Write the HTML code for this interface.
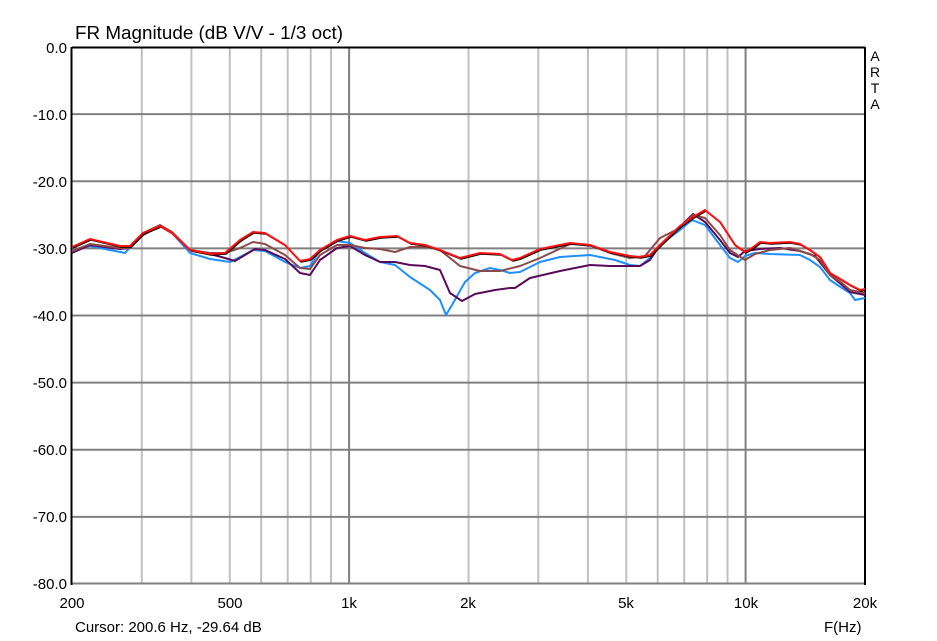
<!DOCTYPE html>
<html><head><meta charset="utf-8"><style>
body{margin:0;background:#fff;}
svg{display:block;font-family:"Liberation Sans",Arial,sans-serif;}
</style></head><body>
<svg width="937" height="641" viewBox="0 0 937 641" xmlns="http://www.w3.org/2000/svg">
<rect width="937" height="641" fill="#fff"/>
<g stroke="#c0c0c0" stroke-width="2">
<line x1="141.8" y1="47" x2="141.8" y2="584"/><line x1="191.4" y1="47" x2="191.4" y2="584"/>
<line x1="229.8" y1="47" x2="229.8" y2="584"/><line x1="261.2" y1="47" x2="261.2" y2="584"/>
<line x1="287.7" y1="47" x2="287.7" y2="584"/><line x1="310.7" y1="47" x2="310.7" y2="584"/>
<line x1="331" y1="47" x2="331" y2="584"/>
<line x1="468.5" y1="47" x2="468.5" y2="584"/><line x1="538.3" y1="47" x2="538.3" y2="584"/>
<line x1="587.9" y1="47" x2="587.9" y2="584"/><line x1="626.3" y1="47" x2="626.3" y2="584"/>
<line x1="657.7" y1="47" x2="657.7" y2="584"/><line x1="684.2" y1="47" x2="684.2" y2="584"/>
<line x1="707.2" y1="47" x2="707.2" y2="584"/><line x1="727.5" y1="47" x2="727.5" y2="584"/>
</g>
<g stroke="#808080" stroke-width="2">
<line x1="349.1" y1="47" x2="349.1" y2="584"/><line x1="745.6" y1="47" x2="745.6" y2="584"/>
<line x1="72" y1="114.1" x2="865" y2="114.1"/><line x1="72" y1="181.2" x2="865" y2="181.2"/>
<line x1="72" y1="248.4" x2="865" y2="248.4"/><line x1="72" y1="315.5" x2="865" y2="315.5"/>
<line x1="72" y1="382.6" x2="865" y2="382.6"/><line x1="72" y1="449.8" x2="865" y2="449.8"/>
<line x1="72" y1="516.9" x2="865" y2="516.9"/><line x1="72" y1="583.5" x2="865" y2="583.5"/>
</g>
<line x1="72" y1="47.5" x2="865" y2="47.5" stroke="#000" stroke-width="2"/>
<line x1="71.5" y1="47" x2="71.5" y2="585" stroke="#000" stroke-width="2"/>
<line x1="865" y1="47" x2="865" y2="585" stroke="#000" stroke-width="2"/>
<g fill="none" stroke-width="2" stroke-linejoin="round">
<polyline stroke="#1e8fff" points="72,251 90,246 110,250 125,253 143,233 160,226 172,233 190,253 210,259 230,262 240,257 253,250 265,251 285,262 300,268 310,266 320,250 337,241 350,243 365,253 380,262 395,265 410,277 430,290 440,300 446,315 452,305 465,282 475,273 490,268 500,270 510,273 520,272 540,262 560,257 590,255 615,260 630,265 640,266 650,258 660,245 680,230 692,220 705,225 720,245 730,258 738,262 745,256 755,253 770,254 800,255 810,260 820,267 830,280 842,288 850,293 855,300 865,298"/>
<polyline stroke="#5a0a5a" points="72,253 90,245 120,249 130,248 143,235 160,226 172,233 190,250 210,254 225,258 235,261 245,255 255,249 265,250 285,259 300,273 310,275 320,260 337,248 350,246 365,255 380,262 395,262 410,265 425,266 440,270 450,293 462,301 475,294 495,290 510,288 515,288 530,278 560,271 590,265 610,266 640,266 650,260 660,245 680,227 693,214 705,222 720,240 730,253 738,257 745,251 760,249 780,248 800,251 815,256 830,275 842,285 850,292 865,295"/>
<polyline stroke="#8b4a4a" points="72,251 90,244 120,248 130,248 143,233 160,225 172,232 190,250 210,253 225,253 240,248 253,242 265,244 285,255 300,268 310,269 320,255 337,245 350,245 365,248 380,249 395,252 410,247 430,247 440,250 460,266 480,271 500,271 520,266 540,258 570,244 590,245 610,253 630,258 645,256 660,238 680,228 693,215 705,218 720,235 730,250 745,260 755,254 770,250 790,248 810,254 820,260 830,275 842,283 850,290 865,293"/>
<polyline stroke="#000" stroke-width="1.5" transform="translate(1,1)" points="72,247 90,239 120,246 130,246 143,233 160,226 172,233 190,250 210,254 225,253 240,240 253,232 265,233 285,245 300,261 310,259 320,250 337,240 350,236 365,240 380,237 397,236 410,243 425,245 440,250 460,258 480,253 500,254 512,260 520,258 540,249 570,243 590,245 610,252 630,256 640,257 650,255 660,245 680,226 693,217 705,210 720,222 735,245 745,252 752,248 760,242 770,243 790,242 800,244 810,250 820,257 830,273 842,280 850,285 860,290 865,289"/>
<polyline stroke="#ff1010" points="72,247 90,239 120,246 130,246 143,233 160,226 172,233 190,250 210,254 225,253 240,240 253,232 265,233 285,245 300,261 310,259 320,250 337,240 350,236 365,240 380,237 397,236 410,243 425,245 440,250 460,258 480,253 500,254 512,260 520,258 540,249 570,243 590,245 610,252 630,256 640,257 650,255 660,245 680,226 693,217 705,210 720,222 735,245 745,252 752,248 760,242 770,243 790,242 800,244 810,250 820,257 830,273 842,280 850,285 860,290 865,289"/>
</g>
<g font-size="15" fill="#000" text-anchor="end">
<text x="67" y="53">0.0</text><text x="67" y="120">-10.0</text><text x="67" y="187">-20.0</text>
<text x="67" y="254">-30.0</text><text x="67" y="321">-40.0</text><text x="67" y="388">-50.0</text>
<text x="67" y="455">-60.0</text><text x="67" y="522">-70.0</text><text x="67" y="589">-80.0</text>
</g>
<g font-size="15" fill="#000" text-anchor="middle">
<text x="72" y="608">200</text><text x="230" y="608">500</text><text x="349" y="608">1k</text>
<text x="468" y="608">2k</text><text x="626" y="608">5k</text><text x="746" y="608">10k</text>
<text x="865" y="608">20k</text>
</g>
<text x="75" y="39" font-size="18.5" textLength="268" lengthAdjust="spacingAndGlyphs">FR Magnitude (dB V/V - 1/3 oct)</text>
<g font-size="14" text-anchor="middle"><text x="875" y="61">A</text><text x="875" y="77">R</text><text x="875" y="93">T</text><text x="875" y="109">A</text></g>
<text x="75" y="632" font-size="15">Cursor: 200.6 Hz, -29.64 dB</text>
<text x="824" y="632" font-size="15">F(Hz)</text>
</svg>
</body></html>
